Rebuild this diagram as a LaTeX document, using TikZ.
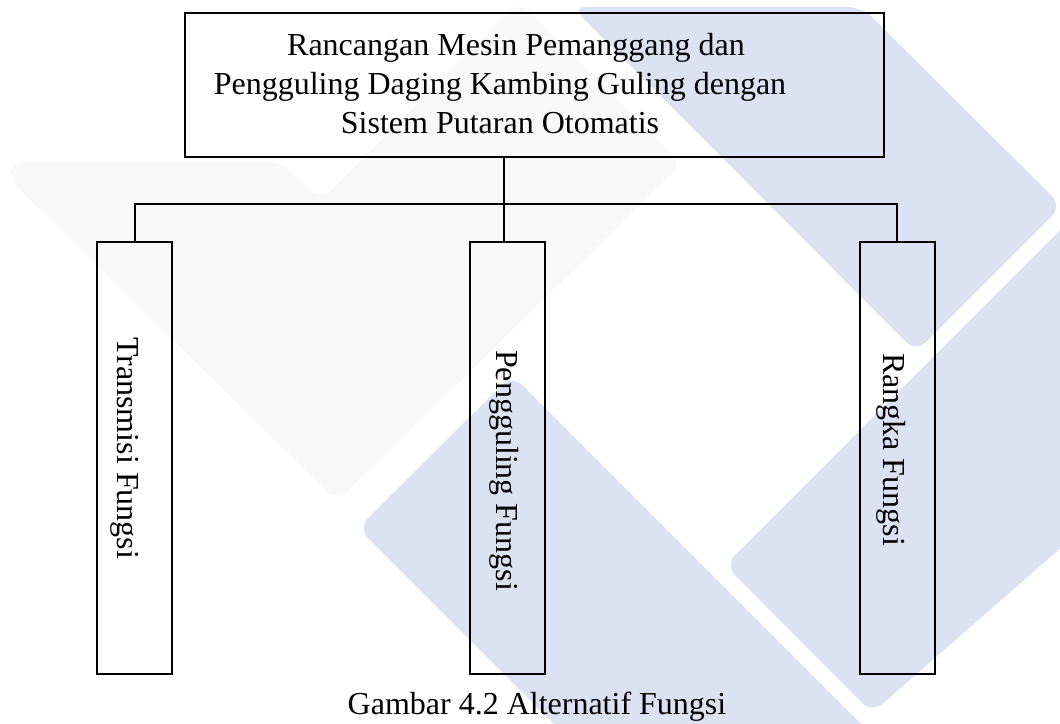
\documentclass[tikz,border=0pt]{standalone}
\usepackage{fontspec}
\setmainfont{Liberation Serif}
\definecolor{afink}{HTML}{000000}
\definecolor{afblue}{HTML}{DBE2F1}
\definecolor{afgrey}{HTML}{F9F9F9}
\tikzset{
  af text/.style={font=\fontsize{32}{39}\selectfont, text=afink},
  af box/.style={draw=afink, line width=2pt, rectangle, inner sep=0pt},
  af label/.style={inner sep=0pt, font=\fontsize{32}{39}\selectfont},
  af line/.style={draw=afink, line width=2pt},
  af mark/.style={fill=afblue, rounded corners=14pt},
  af faint/.style={fill=afgrey, rounded corners=14pt}
}

\begin{document}
\begin{tikzpicture}[af text, x=1pt, y=-1pt]
  \useasboundingbox (0,0) rectangle (1060,723);
  \clip (0,0) rectangle (1060,723);
  % watermark behind the chart
  \fill[af faint] (10,162) -- (281,162) -- (321,200) -- (519,1) -- (682,164)
    -- (337,502) -- (10,180) -- cycle;
  \fill[af mark] (572,7) -- (862,7) -- (1062,206) -- (916,352) -- cycle;
  \fill[af mark] (512,375) -- (897,760) -- (590,760) -- (358,528) -- cycle;
  \fill[af mark] (725,565) -- (1110,180) -- (1110,505) -- (872,713) -- cycle;
  % chart
  \node[af box, minimum width=699pt, minimum height=144.5pt] (judul) at (534.5,84.75) {};
  \node[af label, align=center] (judul teks) at (500,83.5)
    {\hspace*{32pt}Rancangan Mesin Pemanggang dan\\
     Pengguling Daging Kambing Guling dengan\\
     Sistem Putaran Otomatis};
  \node[af box, minimum width=75pt, minimum height=432pt] (transmisi) at (134.5,458) {};
  \node[af box, minimum width=75pt, minimum height=432pt] (pengguling) at (507.5,458) {};
  \node[af box, minimum width=75pt, minimum height=432pt] (rangka) at (897,458) {};
  \node[af label, rotate=-90, anchor=west] (transmisi teks) at (125,337) {Transmisi Fungsi};
  \node[af label, rotate=-90, anchor=west] (pengguling teks) at (504,350) {Pengguling Fungsi};
  \node[af label, rotate=-90, anchor=west] (rangka teks) at (891,353) {Rangka Fungsi};
  \coordinate (cabang) at (504,204);
  \draw[af line] (judul.south -| cabang) -- (pengguling.north -| cabang);
  \draw[af line] (transmisi.north) -- (transmisi.north |- cabang)
    -- (rangka.north |- cabang) -- (rangka.north);
  \node[af label, anchor=base] (keterangan) at (537,714) {Gambar 4.2 Alternatif Fungsi};
\end{tikzpicture}
\end{document}
